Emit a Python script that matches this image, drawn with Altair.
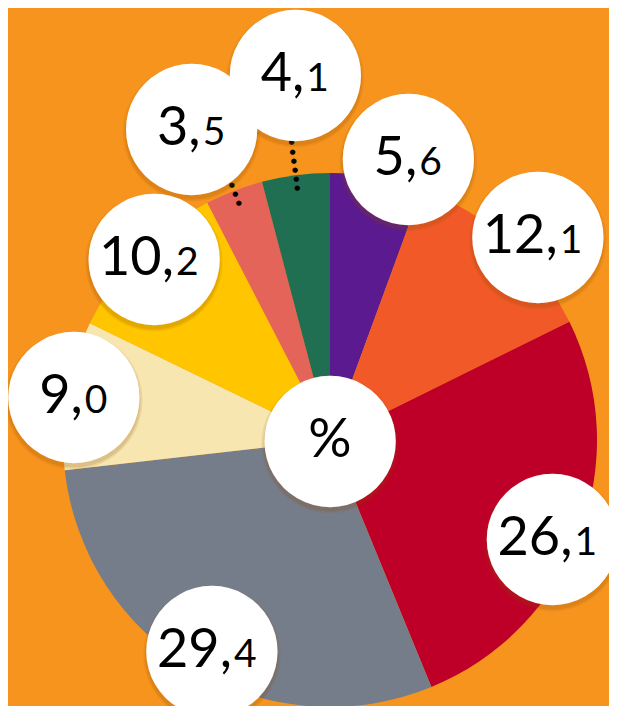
import altair as alt
import pandas as pd
import numpy as np

# ---- data ----
values = [5.6, 12.1, 26.1, 29.4, 9.0, 10.2, 3.5, 4.1]
labels = ["5,6", "12,1", "26,1", "29,4", "9,0", "10,2", "3,5", "4,1"]
colors = ["#5B1A8F", "#F15A28", "#BE0028", "#767D8A", "#F7E6B0", "#FFC600", "#E5645A", "#206F52"]
center_label = ["%"]

# ---- layout (not data): label bubble distance from centre and angular nudge (in % of the pie)
label_dist = [293, 291, 243, 241, 260, 253, 341, 368]
label_nudge = [1.5, 1.0, 0.85, -0.35, 0.0, 0.45, -0.8, 0.55]
CX, CY = 322, 432
R = 267
BG = "#F7941E"
GLYPH = 172
GLYPH_DY = -6
FONT = "Lato"

df = pd.DataFrame({"k": range(len(values)), "v": values, "label": labels,
                   "color": colors, "lr": label_dist, "nudge": label_nudge})
df["end"] = df["v"].cumsum()
df["start"] = df["end"] - df["v"]
df["mid"] = (df["start"] + df["end"]) / 2
df["pos"] = df["mid"] + df["nudge"]
df["ip"] = df["label"].str.split(",").str[0] + ","
df["dp"] = df["label"].str.split(",").str[1]
df["nd"] = df["ip"].str.len() - 1

# leader dots for bubbles lying clear of the pie
rows = []
for _, r in df.iterrows():
    edge = r["lr"] - 68
    if r["lr"] - 65 > R:
        for d in np.linspace(R - 13, edge, max(3, int(round((edge - R + 13) / 9.5)) + 1)):
            rows.append({"mid": r["mid"], "rr": float(d)})
dots = pd.DataFrame(rows)

theta_scale = alt.Scale(domain=[0, 100])
X = alt.value(CX)
Y = alt.value(CY)

base = alt.Chart(df)

pie = base.mark_arc(outerRadius=R).encode(
    theta=alt.Theta("start:Q", scale=theta_scale, stack=False),
    theta2="end:Q",
    color=alt.Color("color:N", scale=None),
    x=X, y=Y,
)

lab_pos = dict(
    theta=alt.Theta("pos:Q", scale=theta_scale, stack=False),
    radius=alt.Radius("lr:Q", scale=None),
    x=X, y=Y,
)

def bubble(src, **enc):
    sh1 = src.mark_text(font="DejaVu Sans", fontSize=GLYPH + 8, baseline="middle",
                        align="center", color="#8a4a00", opacity=0.10, dy=GLYPH_DY + 3).encode(
        text=alt.value("●"), **enc)
    sh2 = src.mark_text(font="DejaVu Sans", fontSize=GLYPH + 3, baseline="middle",
                        align="center", color="#8a4a00", opacity=0.14, dy=GLYPH_DY + 3).encode(
        text=alt.value("●"), **enc)
    wc = src.mark_text(font="DejaVu Sans", fontSize=GLYPH, baseline="middle",
                       align="center", color="white", dy=GLYPH_DY).encode(
        text=alt.value("●"), **enc)
    return sh1 + sh2 + wc

leader = alt.Chart(dots).mark_text(font="DejaVu Sans", fontSize=7, baseline="middle",
                                   align="center", color="black").encode(
    text=alt.value("●"),
    theta=alt.Theta("mid:Q", scale=theta_scale, stack=False),
    radius=alt.Radius("rr:Q", scale=None),
    x=X, y=Y,
)

def parts(nd, dx):
    sub = base.transform_filter(alt.datum.nd == nd)
    big = sub.mark_text(font=FONT, fontSize=54, align="right", baseline="alphabetic",
                        dx=dx, dy=17, color="black").encode(text="ip:N", **lab_pos)
    small = sub.mark_text(font=FONT, fontSize=39, align="left", baseline="alphabetic",
                          dx=dx + 2, dy=17, color="black").encode(text="dp:N", **lab_pos)
    return big + small

cbase = alt.Chart(pd.DataFrame({"t": center_label}))
c_text = cbase.mark_text(font=FONT, fontSize=54, baseline="alphabetic", align="center",
                         dy=17, color="black").encode(text="t:N", x=X, y=Y)

chart = alt.layer(
    pie, leader, bubble(base, **lab_pos), parts(1, 9), parts(2, 20),
    bubble(cbase, x=X, y=Y), c_text
).properties(
    width=601, height=698, padding=0, background=BG,
    autosize=alt.AutoSizeParams(type="none"),
).configure_view(stroke=None)

chart.save("out.html", embed_options={"renderer": "svg", "actions": False})
